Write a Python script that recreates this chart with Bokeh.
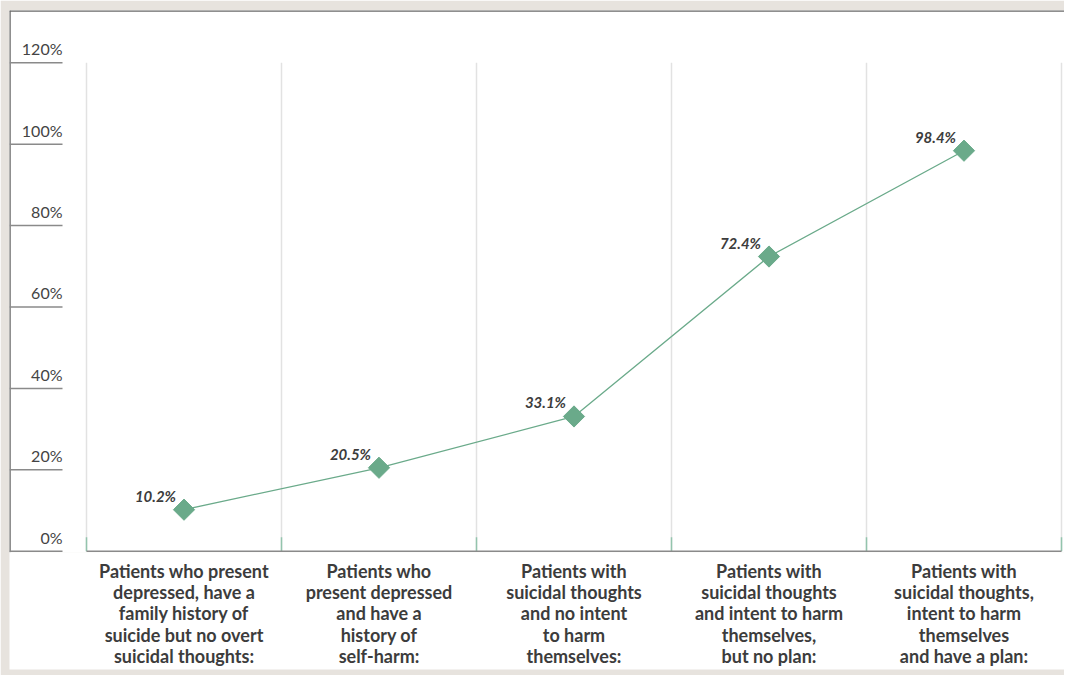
import numpy as np
from bokeh.plotting import figure
from bokeh.models import FixedTicker, ColumnDataSource
from bokeh.core.properties import value
from bokeh.embed import file_html
from bokeh.resources import INLINE

# ---- data ----
categories = [
    "Patients who present\ndepressed, have a\nfamily history of\nsuicide but no overt\nsuicidal thoughts:",
    "Patients who\npresent depressed\nand have a\nhistory of\nself-harm:",
    "Patients with\nsuicidal thoughts\nand no intent\nto harm\nthemselves:",
    "Patients with\nsuicidal thoughts\nand intent to harm\nthemselves,\nbut no plan:",
    "Patients with\nsuicidal thoughts,\nintent to harm\nthemselves\nand have a plan:",
]
percent_values = [10.2, 20.5, 33.1, 72.4, 98.4]
y_ticks = [0, 20, 40, 60, 80, 100, 120]
y_tick_labels = ["0%", "20%", "40%", "60%", "80%", "100%", "120%"]

GREEN = "#6aaa8a"
TEXT = "#3c3c3c"
GRAY = "#8a8a8a"
BEIGE = "#e7e3de"
DARK = "#6a6a6a"

xc = list(range(len(categories)))
bounds = [i - 0.5 for i in range(len(categories) + 1)]

# layout constants (px -> data)
X_START, X_END = -0.8949, 4.5154
Y_START, Y_END = -0.32, 132.85
TICK_END = -0.6231

p = figure(width=1064, height=675, output_backend="svg", toolbar_location=None,
           x_range=(X_START, X_END), y_range=(Y_START, Y_END),
           y_axis_location=None,
           min_border_left=9, min_border_top=10, min_border_right=0, min_border_bottom=123)
p.border_fill_color = BEIGE
p.background_fill_color = "white"
p.outline_line_color = None
p.xgrid.visible = False
p.ygrid.visible = False

ax = p.xaxis[0]
ax.background_fill_color = "white"
ax.ticker = FixedTicker(ticks=xc)
ax.major_label_overrides = {i: c for i, c in zip(xc, categories)}
ax.axis_line_color = None
ax.major_tick_line_color = None
ax.minor_tick_line_color = None
ax.major_label_standoff = 1
ax.major_label_text_font = "Lato"
ax.major_label_text_font_style = "bold"
ax.major_label_text_font_size = "18px"
ax.major_label_text_color = TEXT
ax.major_label_text_line_height = 0.97

# panel border lines (top and left)
p.segment(x0=[X_START], y0=[Y_END], x1=[X_END], y1=[Y_END], line_color=DARK, line_width=2.5)
p.segment(x0=[X_START], y0=[Y_START], x1=[X_START], y1=[Y_END], line_color=DARK, line_width=2.5)

# vertical gridlines at category boundaries
p.segment(x0=bounds, y0=[0] * len(bounds), x1=bounds, y1=[y_ticks[-1]] * len(bounds),
          line_color="#e2e2e2", line_width=1.5)
# green stubs at base of gridlines
p.segment(x0=bounds, y0=[0] * len(bounds), x1=bounds, y1=[3.4] * len(bounds),
          line_color="#93c4ad", line_width=1.5)
# baseline
p.segment(x0=[bounds[0]], y0=[0], x1=[bounds[-1]], y1=[0], line_color=GRAY, line_width=1.5)

# y tick lines and labels
p.segment(x0=[X_START] * len(y_ticks), y0=y_ticks, x1=[TICK_END] * len(y_ticks), y1=y_ticks,
          line_color=GRAY, line_width=1.5)
p.text(x=[TICK_END] * len(y_ticks), y=y_ticks, text=y_tick_labels,
       text_font=value("Lato"), text_font_size="16px", text_color="#444444",
       text_align="right", text_baseline="alphabetic", y_offset=-14)

# series
src = ColumnDataSource(dict(x=xc, y=percent_values,
                            lab=[f"{v:.1f}%" for v in percent_values]))
p.line("x", "y", source=src, line_color=GREEN, line_width=1.3)
p.scatter("x", "y", source=src, marker="square", angle=np.pi / 4, size=15,
          fill_color=GREEN, line_color=GREEN)
p.text("x", "y", text="lab", source=src, text_font=value("Lato"),
       text_font_style="bold italic", text_font_size="15px", text_color=TEXT,
       text_align="right", text_baseline="alphabetic", x_offset=-8, y_offset=-14)

open("out.html", "w").write(file_html(p, INLINE))
